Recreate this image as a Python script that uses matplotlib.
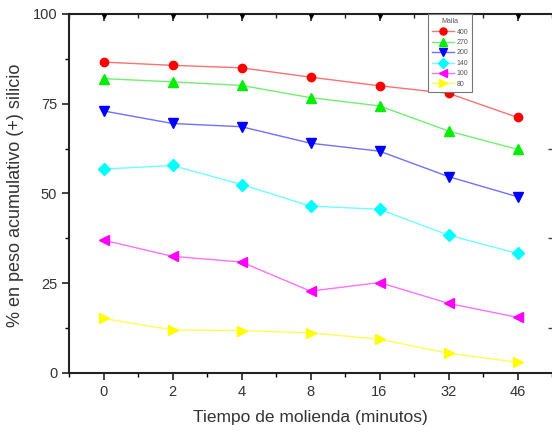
import numpy as np
import matplotlib
matplotlib.use("Agg")
import matplotlib.pyplot as plt
from matplotlib.ticker import MultipleLocator, FixedLocator, NullFormatter

plt.rcParams['font.family'] = ['Liberation Sans', 'DejaVu Sans']

# datos
tiempos = ['0', '2', '4', '8', '16', '32', '46']
mallas = ['400', '270', '200', '140', '100', '80']
m400 = [86.6, 85.7, 85.0, 82.4, 80.0, 77.9, 71.2]
m270 = [82.0, 81.1, 80.1, 76.7, 74.4, 67.4, 62.3]
m200 = [73.0, 69.5, 68.6, 64.0, 61.8, 54.7, 49.1]
m140 = [56.8, 57.8, 52.5, 46.5, 45.6, 38.4, 33.3]
m100 = [37.0, 32.5, 30.9, 22.8, 25.2, 19.4, 15.5]
m80 = [15.2, 12.0, 11.8, 11.2, 9.4, 5.5, 3.0]
total = [100, 100, 100, 100, 100, 100, 100]

series = [m400, m270, m200, m140, m100, m80]
marcadores = ['o', '^', 'v', 'D', '<', '>']
col_marca = ['#ff0000', '#00ee00', '#0000ff', '#00ffff', '#ff00ff', '#ffff00']
col_linea = ['#ff7070', '#70f070', '#7070ff', '#70ffff', '#ff70ff', '#ffff50']
tam = [6, 7, 7, 6, 7, 7]

fig = plt.figure(figsize=(5.52, 4.32), dpi=100)
ax = fig.add_axes([0.125, 0.1366, 0.875, 0.831])

x = np.arange(len(tiempos))
for s, mk, cm, cl, ms, lab in zip(series, marcadores, col_marca, col_linea, tam, mallas):
    ax.plot(x, s, color=cl, lw=1.0, marker=mk, ms=ms, markerfacecolor=cm,
            markeredgecolor=cm, label=lab)

# serie al 100 % (marcadores negros sobre el borde superior)
ax.plot(x, total, color='black', lw=0, marker='v', ms=6, zorder=5, clip_on=True)

ax.set_xlim(-0.5, 6.5)
ax.set_ylim(0, 100)
ax.set_xticks(x)
ax.set_xticklabels(tiempos)
ax.xaxis.set_minor_locator(FixedLocator(np.arange(-0.5, 7, 1.0)))
ax.yaxis.set_major_locator(FixedLocator([0, 25, 50, 75, 100]))
ax.yaxis.set_minor_locator(MultipleLocator(12.5))

ax.spines['right'].set_visible(False)
for sp in ['left', 'bottom', 'top']:
    ax.spines[sp].set_linewidth(1.5)
    ax.spines[sp].set_color('#222222')

ax.tick_params(axis='both', which='major', direction='out', length=5, width=1.2,
               labelsize=10.5, colors='#222222', labelcolor='#333333')
ax.tick_params(axis='both', which='minor', direction='out', length=3, width=1.0)
ax.tick_params(top=False, right=False, which='both')

# ticks hacia adentro arriba y a la derecha
sx = ax.secondary_xaxis('top')
sx.set_xticks(x)
sx.xaxis.set_minor_locator(FixedLocator(np.arange(-0.5, 7, 1.0)))
sx.xaxis.set_major_formatter(NullFormatter())
sx.tick_params(which='major', direction='in', length=5, width=1.2, colors='#222222')
sx.tick_params(which='minor', direction='in', length=3, width=1.0, colors='#222222')
sx.spines['top'].set_visible(False)

sy = ax.secondary_yaxis('right')
sy.set_yticks([])
sy.yaxis.set_minor_locator(FixedLocator([12.5, 37.5, 62.5]))
sy.tick_params(which='minor', direction='in', length=3, width=1.0, colors='#444444')
sy.spines['right'].set_visible(False)

ax.set_xlabel('Tiempo de molienda (minutos)', fontsize=12.5, color='#333333')
ax.set_ylabel('% en peso acumulativo (+) silicio', fontsize=13, color='#333333')
ax.xaxis.set_label_coords(0.5, -0.102)
ax.yaxis.set_label_coords(-0.093, 0.495)

leg = ax.legend(title='Malla', loc='upper left', bbox_to_anchor=(0.736, 1.01),
                fontsize=5, title_fontsize=5, handlelength=3.2, markerscale=0.85,
                labelspacing=0.5, handletextpad=0.3, borderpad=0.6,
                fancybox=False, framealpha=1, edgecolor='#777777')
leg.set_zorder(10)
for t in leg.get_texts():
    t.set_color('#555555')
leg.get_title().set_color('#555555')
leg.get_frame().set_linewidth(0.8)

plt.savefig('out.png', dpi=100)
